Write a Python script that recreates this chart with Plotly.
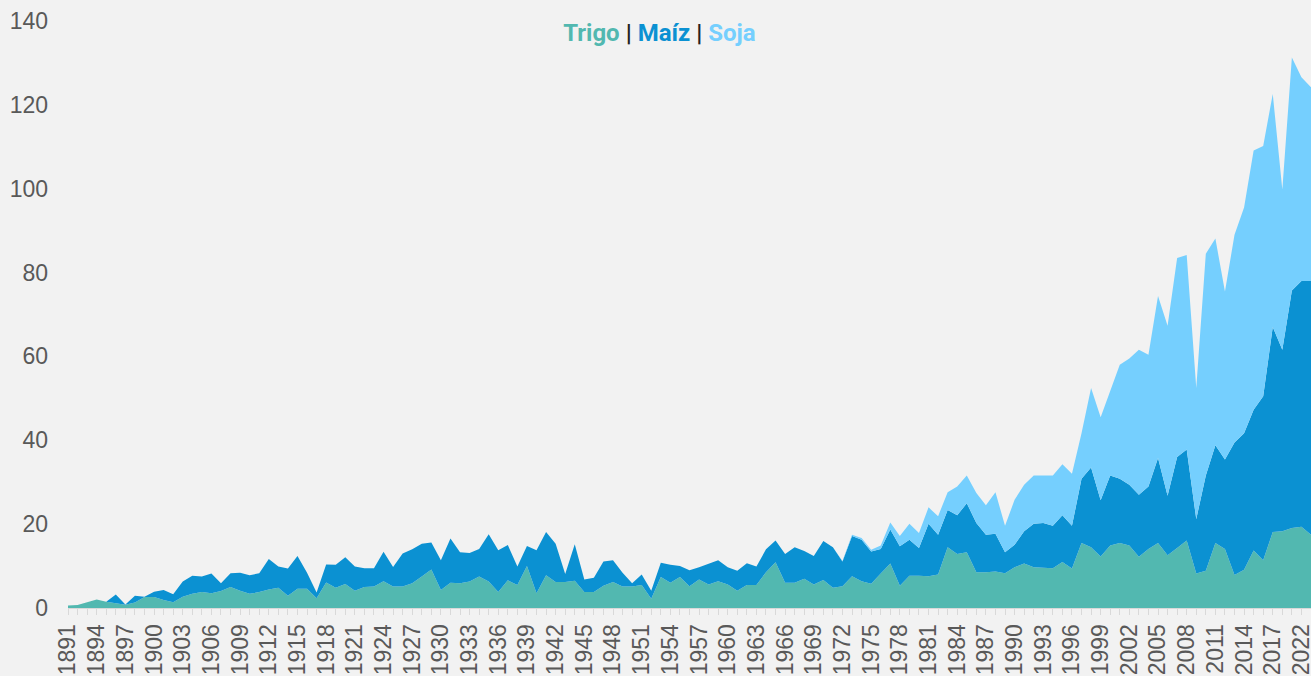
import plotly.graph_objects as go

# Categories (last two labels as printed on the reference axis)
years = [str(y) for y in range(1891, 2020)] + ["2022", "2023"]

# Production, million tonnes
trigo = [
    0.6, 0.7, 1.35, 2.0, 1.5, 1.2, 0.8, 1.3, 2.6, 2.6,
    1.9, 1.4, 2.7, 3.4, 3.8, 3.5, 4.05, 5.0, 4.1, 3.4,
    3.8, 4.4, 4.8, 2.9, 4.6, 4.6, 2.3, 6.1, 4.85, 5.7,
    4.1, 5.0, 5.1, 6.4, 5.1, 5.1,
    5.9, 7.5, 9.2, 4.3, 6.0, 5.9, 6.3, 7.5, 6.3, 3.8,
    6.6, 5.5, 10.0, 3.5, 7.8, 6.2, 6.2, 6.5, 3.8, 3.8,
    5.3, 6.2, 5.1, 5.1, 5.5, 2.2, 7.4, 6.0, 7.4, 5.2,
    6.8, 5.6, 6.4, 5.6, 4.1, 5.5, 5.5, 8.5, 10.9, 6.0,
    6.0, 7.0, 5.6, 6.7, 4.8, 5.2,
    7.55, 6.4, 5.8, 8.2, 10.6, 5.3, 7.7, 7.7, 7.55, 8.0,
    14.5, 12.9, 13.3, 8.5, 8.5, 8.7, 8.3, 9.7, 10.6, 9.7,
    9.6, 9.5, 11.0, 9.4, 15.5, 14.5, 12.3, 14.9, 15.5, 14.9,
    12.2, 14.1, 15.5, 12.6, 14.3, 16.1, 8.2, 8.9, 15.5, 14.1,
    7.9, 9.1, 13.7, 11.4, 18.1, 18.3, 19.1, 19.4, 17.5,
]

maiz = [
    0, 0, 0, 0, 0, 2.0, 0.05, 1.6, 0.1, 1.3,
    2.4, 1.9, 3.6, 4.3, 3.7, 4.7, 1.85, 3.3, 4.3, 4.4,
    4.5, 7.3, 5.1, 6.5, 7.8, 3.8, 1.4, 4.3, 5.45, 6.4,
    5.8, 4.5, 4.4, 7.0, 4.7, 7.9,
    8.1, 7.8, 6.4, 7.1, 10.6, 7.4, 6.8, 6.6, 11.3, 10.0,
    8.4, 4.4, 4.8, 10.3, 10.3, 9.1, 1.9, 8.7, 3.0, 3.4,
    5.8, 5.2, 3.3, 0.8, 2.5, 1.9, 3.4, 4.3, 2.6, 3.8,
    2.9, 4.9, 5.0, 4.1, 4.8, 5.2, 4.4, 5.5, 5.2, 6.9,
    8.5, 6.6, 6.8, 9.3, 9.7, 5.9,
    9.65, 9.9, 7.7, 5.9, 8.1, 9.4, 8.6, 6.6, 12.55, 9.5,
    8.9, 9.2, 11.7, 11.8, 9.0, 9.0, 5.0, 5.4, 7.7, 10.4,
    10.7, 10.1, 11.1, 10.2, 15.3, 19.0, 13.4, 16.7, 15.3, 14.5,
    14.8, 14.9, 20.3, 14.2, 21.7, 21.7, 13.0, 22.7, 23.3, 21.3,
    31.6, 32.6, 33.6, 39.1, 48.9, 43.3, 56.6, 58.6, 60.5,
]

soja = [
    0, 0, 0, 0, 0, 0, 0, 0, 0, 0,
    0, 0, 0, 0, 0, 0, 0, 0, 0, 0,
    0, 0, 0, 0, 0, 0, 0, 0, 0, 0,
    0, 0, 0, 0, 0, 0,
    0, 0, 0, 0, 0, 0, 0, 0, 0, 0,
    0, 0, 0, 0, 0, 0, 0, 0, 0, 0,
    0, 0, 0, 0, 0, 0, 0, 0, 0, 0,
    0, 0, 0, 0, 0, 0, 0, 0, 0, 0,
    0, 0, 0, 0, 0, 0.1,
    0.3, 0.4, 0.4, 0.8, 1.7, 2.5, 3.8, 3.6, 3.9, 4.4,
    4.2, 6.9, 6.6, 7.1, 7.0, 9.9, 6.3, 10.7, 11.1, 11.5,
    11.3, 12.0, 12.2, 12.4, 10.9, 19.0, 19.8, 20.3, 27.2, 30.1,
    34.6, 31.4, 38.6, 40.5, 47.5, 46.4, 31.3, 52.9, 49.3, 40.1,
    49.5, 53.8, 61.8, 59.7, 55.6, 38.2, 55.6, 48.6, 46.2,
]

series_names = ["Trigo", "Maíz", "Soja"]
series_colors = ["#52B8B0", "#0B91D2", "#75CFFE"]
y_ticks = [0, 20, 40, 60, 80, 100, 120, 140]

fig = go.Figure()
for name, vals, col in zip(series_names, [trigo, maiz, soja], series_colors):
    fig.add_trace(go.Scatter(
        x=years, y=vals, name=name, mode="lines", stackgroup="one",
        line=dict(width=0, color=col), fillcolor=col,
    ))

tick_text = [y if i % 3 == 0 else "" for i, y in enumerate(years)]

title_html = (
    "<b><span style='color:#52B8B0'>Trigo</span>"
    " <span style='color:#222222'>|</span> "
    "<span style='color:#0B91D2'>Maíz</span>"
    " <span style='color:#222222'>|</span> "
    "<span style='color:#75CFFE'>Soja</span></b>"
)

fig.update_layout(
    width=1311, height=676,
    margin=dict(l=68, r=0, t=21, b=68, autoexpand=False),
    paper_bgcolor="#F2F2F2", plot_bgcolor="#F2F2F2",
    showlegend=False,
    title=dict(text=title_html, x=0.503, xanchor="center", y=1 - 33 / 676,
               yanchor="middle", yref="container",
               font=dict(family="Roboto", size=24)),
    xaxis=dict(
        type="category", range=[0, len(years) - 1],
        tickmode="array", tickvals=years, ticktext=tick_text,
        tickangle=-90, ticks="outside", ticklen=6, tickwidth=1,
        tickcolor="#D9D9D9", showline=True, linecolor="#D9D9D9", linewidth=1,
        showgrid=False, zeroline=False, automargin=False,
        tickfont=dict(family="Liberation Sans, Arial", size=23, color="#595959"),
    ),
    yaxis=dict(
        range=[0, 140], tickmode="array", tickvals=y_ticks,
        showgrid=False, zeroline=False, showline=False, ticks="",
        ticklabelstandoff=19, automargin=False,
        tickfont=dict(family="Liberation Sans, Arial", size=23, color="#595959"),
    ),
)

page_css = (
    "document.body.style.margin='0';"
    "document.body.style.padding='0';"
    "document.body.style.overflow='hidden';"
    "document.body.style.background='#F2F2F2';"
)

fig.write_html("out.html", config={"displayModeBar": False}, post_script=page_css)
